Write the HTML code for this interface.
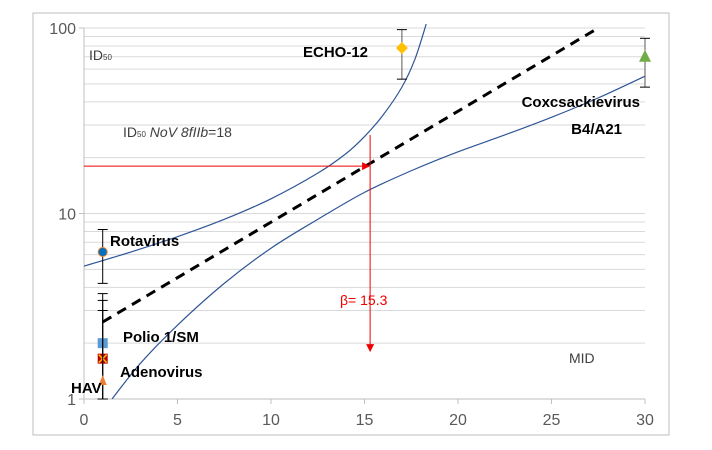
<!DOCTYPE html>
<html><head><meta charset="utf-8"><style>
body{margin:0;background:#fff;font-family:"Liberation Sans","Noto Sans CJK SC",sans-serif}
svg{display:block}
</style></head><body>
<svg id="c" width="712" height="450">
<rect x="33" y="13" width="636" height="422" fill="#fff" stroke="#bdbdbd"/>
<defs><clipPath id="pc"><rect x="84" y="20" width="561" height="379"/></clipPath></defs>
<g id="grid"></g><g id="ticks"></g><g id="series" clip-path="url(#pc)"></g><g id="pts"></g><g id="labels"></g>
</svg>
<script>
const xTicks=[0,5,10,15,20,25,30];
const yTicks=[1,10,100];
const upperX=[0,2.5,5,7.5,10,12.5,14,15,16,17,17.7,18.3];
const upperY=[5.2,6.2,7.5,9.3,12,16.5,21,26,34,48,68,105];
const lowerX=[1.5,3,5,7.5,10,12.5,15,17.5,20,22.5,25,27.5,30];
const lowerY=[1.0,1.55,2.5,4.2,6.5,9.3,13,17,21.5,26.5,33,42,55];
const fitX=[1,27.5];
const fitY=[2.6,100];
const virusNames=["Rotavirus","Polio 1/SM","Adenovirus","HAV","ECHO-12","Coxcsackievirus B4/A21"];
const virusX=[1,1,1,1,17,30];
const virusY=[6.2,2.0,1.65,1.25,78,70];
const errLo=[4.2,1.0,1.0,1.0,53,48];
const errHi=[8.2,3.7,3.4,3.0,98,88];
const beta=15.3, id50=18, arrowEnd=1.79;
const NS="http://www.w3.org/2000/svg";
const X=v=>84+v*(561/30);
const Y=v=>399-Math.log10(v)*185.5;
function mk(p,t,a){const e=document.createElementNS(NS,t);for(const k in a)e.setAttribute(k,a[k]);document.getElementById(p).appendChild(e);return e;}
// grid
for(let d=1;d<=100;d*=10)for(let m=1;m<10;m++){const v=d*m;if(v>100)break;
 const g=mk('grid','line',{x1:84,x2:645,y1:Y(v),y2:Y(v),stroke:'#d9d9d9','stroke-width':1});
 
 }
const ax=mk('ticks','line',{x1:84,x2:645,y1:399,y2:399,stroke:'#bfbfbf'});


const ay=mk('ticks','line',{x1:84,x2:84,y1:28,y2:399,stroke:'#bfbfbf'});


xTicks.forEach(t=>{mk('ticks','line',{x1:X(t),x2:X(t),y1:399,y2:404,stroke:'#bfbfbf'});
 const e=mk('ticks','text',{x:X(t),y:425,'text-anchor':'middle','font-size':16,fill:'#595959'});e.textContent=t;
 
 });
yTicks.forEach(t=>{mk('ticks','line',{x1:79,x2:84,y1:Y(t),y2:Y(t),stroke:'#bfbfbf'});
 const e=mk('ticks','text',{x:76,y:Y(t)+6,'text-anchor':'end','font-size':16,fill:'#595959'});e.textContent=t;
 
 });
function path(xs,ys){let s='';for(let i=0;i<xs.length;i++){const px=X(xs[i]),py=Y(ys[i]);
 if(i==0)s='M'+px+','+py;else{const p0=[X(xs[Math.max(i-2,0)]),Y(ys[Math.max(i-2,0)])],p1=[X(xs[i-1]),Y(ys[i-1])],p2=[px,py],p3=[X(xs[Math.min(i+1,xs.length-1)]),Y(ys[Math.min(i+1,xs.length-1)])];
 s+=` C${p1[0]+(p2[0]-p0[0])/6},${p1[1]+(p2[1]-p0[1])/6} ${p2[0]-(p3[0]-p1[0])/6},${p2[1]-(p3[1]-p1[1])/6} ${p2[0]},${p2[1]}`;}}return s;}
const up=mk('series','path',{d:path(upperX,upperY),fill:'none',stroke:'#2f5597','stroke-width':1.2});


const lo=mk('series','path',{d:path(lowerX,lowerY),fill:'none',stroke:'#2f5597','stroke-width':1.2});


const fl=mk('series','line',{x1:X(fitX[0]),y1:Y(fitY[0]),x2:X(fitX[1]),y2:Y(fitY[1]),stroke:'#000','stroke-width':3,'stroke-dasharray':'10,7'});


// red annotations
const h=mk('series','line',{x1:X(0),y1:Y(id50),x2:X(beta)-6,y2:Y(id50),stroke:'#e00','stroke-width':1});


mk('series','path',{d:`M${X(beta)},${Y(id50)} l-8,-4 v8z`,fill:'#e00'});
const v=mk('series','line',{x1:X(beta),y1:Y(26.5),x2:X(beta),y2:Y(arrowEnd)-6,stroke:'#e00','stroke-width':1});


mk('series','path',{d:`M${X(beta)},${Y(arrowEnd)} l-4,-8 h8z`,fill:'#e00'});
// points
const cols=['#0070c0','#5b9bd5','#c00000','#ed7d31','#ffc000','#70ad47'];
virusX.forEach((vx,i)=>{const px=X(vx),py=Y(virusY[i]);
 const eb=mk('pts','line',{x1:px,x2:px,y1:Y(errLo[i]),y2:Y(errHi[i]),stroke:i<4?'#000':'#595959','stroke-width':1});
 
 
 [errLo[i],errHi[i]].forEach(e=>mk('pts','line',{x1:px-5,x2:px+5,y1:Y(e),y2:Y(e),stroke:'#000'}));
 let m;
 if(i==0)m=mk('pts','circle',{cx:px,cy:py,r:4.5,fill:cols[0],stroke:'#ed7d31'});
 else if(i==1)m=mk('pts','rect',{x:px-5,y:py-5,width:10,height:10,fill:cols[1]});
 else if(i==2){m=mk('pts','rect',{x:px-5,y:py-5,width:10,height:10,fill:cols[2]});mk('pts','path',{d:`M${px-4},${py-4}L${px+4},${py+4}M${px+4},${py-4}L${px-4},${py+4}`,stroke:'#ffc000','stroke-width':1.5});}
 else if(i==3)m=mk('pts','path',{d:`M${px},${py-6}L${px+4},${py+4}L${px-4},${py+4}z`,fill:cols[3]});
 else if(i==4)m=mk('pts','path',{d:`M${px},${py-6}L${px+6},${py}L${px},${py+6}L${px-6},${py}z`,fill:cols[4]});
 else m=mk('pts','path',{d:`M${px},${py-7}L${px+6},${py+5}L${px-6},${py+5}z`,fill:cols[5]});
 
 });
function lbl(x,y,t,opt){const e=mk('labels','text',Object.assign({x:x,y:y,'font-size':15,'font-weight':'bold',fill:'#000'},opt||{}));e.textContent=t;
 
 return e;}
lbl(110,246,virusNames[0]);lbl(123,342,virusNames[1]);lbl(120,377,virusNames[2]);lbl(71,393,virusNames[3]);
lbl(303,57,virusNames[4]);lbl(640,107,'Coxcsackievirus',{'text-anchor':'end'});lbl(622,134,'B4/A21',{'text-anchor':'end'});
</script>
<div style="position:absolute;left:89px;top:47px;font-size:14px;color:#404040">ID<span style="font-size:8px">50</span></div>
<div style="position:absolute;left:123px;top:124px;font-size:14px;color:#404040">ID<span style="font-size:8px">50</span> <i>NoV 8fIIb</i>=18</div>
<div style="position:absolute;left:340px;top:292px;font-size:14px;color:#e00">β= 15.3</div>
<div style="position:absolute;left:569px;top:350px;font-size:14px;color:#404040">MID</div>
</body></html>
